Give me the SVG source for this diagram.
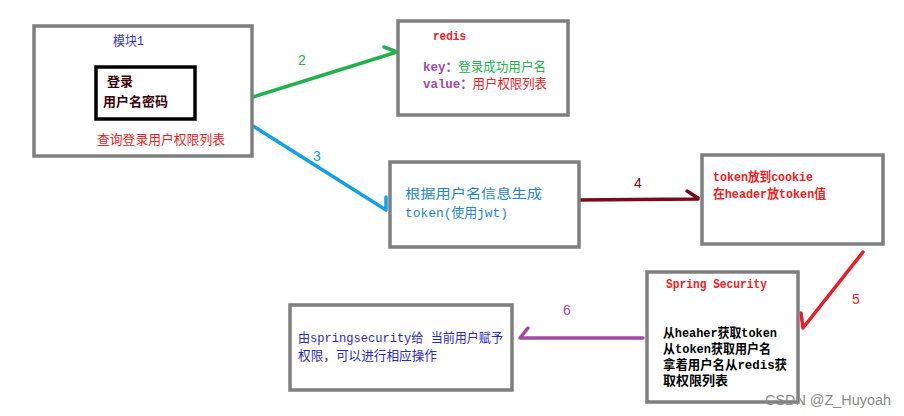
<svg xmlns="http://www.w3.org/2000/svg" width="904" height="416" viewBox="0 0 904 416">
<style>
.box{fill:#fff;stroke:#7f7f7f;stroke-width:3.5}
.t{font-family:"Liberation Mono","Noto Sans CJK SC",monospace;font-size:13px}
.lbl{font-family:"Liberation Sans","Noto Sans CJK SC",sans-serif;font-size:14px}
.c{fill:none;stroke-width:3.5;stroke-linecap:round;stroke-linejoin:round}
</style>
<rect width="904" height="416" fill="#fff"/>
<g id="connectors">
<path class="c" stroke="#7a0a18" d="M42,69 L92,89 M82,96 L92,89"/>
<path class="c" stroke="#22b14c" d="M253,97 L397,52 M384,47 L397,52"/>
<path class="c" stroke="#12a0e6" d="M253,126 L386,210 M386,197 L386,210"/>
<path class="c" stroke="#7a0a18" d="M575,200 L698,199 M687,191 L698,198"/>
<path class="c" stroke="#ee1c24" d="M863,252 L803,328 M801,313 L803,328"/>
<path class="c" stroke="#a349a4" d="M643,338 L520,338 M528,328 L520,338"/>
<text class="lbl" x="60" y="71" fill="#7a0a18" font-size="12">1</text>
<text class="lbl" x="298" y="65" fill="#22b14c">2</text>
<text class="lbl" x="313" y="161" fill="#12a0e6">3</text>
<text class="lbl" x="634" y="188" fill="#7a0a18">4</text>
<text class="lbl" x="852" y="304" fill="#ee1c24">5</text>
<text class="lbl" x="563" y="315" fill="#a349a4" font-size="11">6</text>
</g>
<g id="module1">
<rect class="box" x="34" y="26" width="218" height="130"/>
<text class="t" x="113" y="45" fill="#3434c8" textLength="31" lengthAdjust="spacingAndGlyphs">模块1</text>
<rect x="96" y="67" width="99" height="52" fill="#fff" stroke="#000" stroke-width="3.5"/>
<text class="t" x="107" y="86" fill="#3a0008" font-weight="bold">登录</text>
<text class="t" x="103" y="106" fill="#3a0008" font-weight="bold">用户名密码</text>
<text class="t" x="97" y="144" fill="#ee1c24" textLength="128" lengthAdjust="spacingAndGlyphs">查询登录用户权限列表</text>
</g>
<g id="redis">
<rect class="box" x="398" y="21" width="170" height="94"/>
<text class="t" x="433" y="40" fill="#ee1c24" font-weight="bold" textLength="33" lengthAdjust="spacingAndGlyphs">redis</text>
<text class="t" x="423" y="71" textLength="123" lengthAdjust="spacingAndGlyphs"><tspan fill="#a349a4" font-weight="bold">key：</tspan><tspan fill="#22b14c">登录成功用户名</tspan></text>
<text class="t" x="423" y="88" textLength="124" lengthAdjust="spacingAndGlyphs"><tspan fill="#a349a4" font-weight="bold">value：</tspan><tspan fill="#ee1c24">用户权限列表</tspan></text>
</g>
<g id="token">
<rect class="box" x="390" y="162" width="189" height="85"/>
<text class="t" x="405" y="198" fill="#1f86d6" font-size="15" textLength="137" lengthAdjust="spacingAndGlyphs">根据用户名信息生成</text>
<text class="t" x="405" y="217" fill="#1f86d6" font-size="15" textLength="103" lengthAdjust="spacingAndGlyphs">token(使用jwt)</text>
</g>
<g id="cookie">
<rect class="box" x="702" y="155" width="181" height="89"/>
<text class="t" x="713" y="181" fill="#ee1c24" font-weight="bold" textLength="100" lengthAdjust="spacingAndGlyphs">token放到cookie</text>
<text class="t" x="713" y="198" fill="#ee1c24" font-weight="bold" textLength="113" lengthAdjust="spacingAndGlyphs">在header放token值</text>
</g>
<g id="security">
<rect class="box" x="647" y="272" width="151" height="130"/>
<text class="t" x="666" y="288" fill="#ee1c24" font-weight="bold" textLength="101" lengthAdjust="spacingAndGlyphs">Spring Security</text>
<text class="t" x="663" y="337" fill="#000" font-weight="bold" textLength="114" lengthAdjust="spacingAndGlyphs">从heaher获取token</text>
<text class="t" x="663" y="353" fill="#000" font-weight="bold" textLength="108" lengthAdjust="spacingAndGlyphs">从token获取用户名</text>
<text class="t" x="663" y="369" fill="#000" font-weight="bold" textLength="124" lengthAdjust="spacingAndGlyphs">拿着用户名从redis获</text>
<text class="t" x="663" y="385" fill="#000" font-weight="bold" textLength="65" lengthAdjust="spacingAndGlyphs">取权限列表</text>
</g>
<g id="result">
<rect class="box" x="290" y="305" width="222" height="85"/>
<text class="t" x="298" y="342" fill="#2a2ac8" textLength="205" lengthAdjust="spacingAndGlyphs">由springsecurity给 当前用户赋予</text>
<text class="t" x="298" y="360" fill="#2a2ac8" textLength="139" lengthAdjust="spacingAndGlyphs">权限，可以进行相应操作</text>
</g>
<text x="765" y="405" font-family="Liberation Sans,sans-serif" font-size="14" fill="#8a8a8a" textLength="126" lengthAdjust="spacingAndGlyphs">CSDN @Z_Huyoah</text>
</svg>
